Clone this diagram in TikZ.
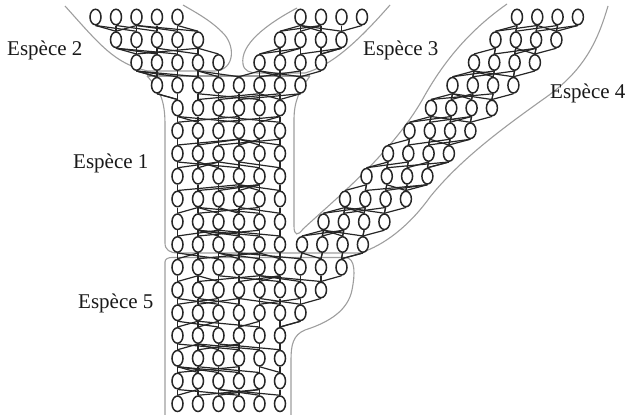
\documentclass[tikz,border=0pt]{standalone}
\usepackage{fontspec}
\setmainfont{Liberation Serif}
\usetikzlibrary{shapes.geometric}
\tikzset{
  ind/.style={ellipse, draw=black!85, fill=white, line width=1.5pt, minimum width=11pt, minimum height=15.5pt, inner sep=0pt},
  lk/.style={draw=black!85, line width=1.2pt},
  bd/.style={draw=black!38, line width=1.1pt},
  lab/.style={font=\fontsize{21}{24}\selectfont, text=black!90, inner sep=0pt, anchor=base west}
}
\newcommand\mrow[3]{%
  \foreach \k in {#2,...,#3}{%
    \node[ind] (n-#1-\k) at ({95.5+20.5*\k},{17+22.75*#1}) {};
  }}
\newcommand\drow[1]{%
  \pgfmathtruncatemacro\kA{20-#1}%
  \pgfmathtruncatemacro\kB{23-#1}%
  \foreach \k in {\kA,...,\kB}{%
    \node[ind] (n-#1-\k) at ({302+21.5*(10-#1)+20.3*(\k-20+#1)},{17+22.75*#1}) {};
  }}
\newcommand\lnks[5]{%
  \pgfmathtruncatemacro\pRw{#1-1}%
  \foreach \k in {#2,...,#3}{%
    \pgfmathtruncatemacro\pA{max(#4,min(#5,\k))}%
    \pgfmathrandominteger{\dD}{1}{3}%
    \pgfmathrandominteger{\sG}{0}{1}%
    \pgfmathtruncatemacro\pB{\k+(2*\sG-1)*\dD}%
    \ifnum\pB<#4\relax\pgfmathtruncatemacro\pB{\k+\dD}\fi
    \ifnum\pB>#5\relax\pgfmathtruncatemacro\pB{\k-\dD}\fi
    \pgfmathtruncatemacro\pB{max(#4,min(#5,\pB))}%
    \draw[lk] (n-#1-\k.north) -- (n-\pRw-\pA.south);
    \ifnum\pB=\pA\relax\else\draw[lk] (n-#1-\k.north) -- (n-\pRw-\pB.south);\fi
  }%
  \foreach \p in {#4,...,#5}{%
    \pgfmathtruncatemacro\cK{max(#2,min(#3,\p))}%
    \draw[lk] (n-#1-\cK.north) -- (n-\pRw-\p.south);
  }}
\begin{document}
\begin{tikzpicture}[x=1pt,y=-1pt]
\useasboundingbox (0,0) rectangle (630,415);
\pgfmathsetseed{11}
% outlines
\draw[bd] (65,6) .. controls (100,45) and (115,64) .. (148,71) -- (215,71)
  .. controls (235,70) and (236,45) .. (222,32) .. controls (210,20) and (195,12) .. (183,5);
\draw[bd] (297,8) .. controls (265,25) and (240,45) .. (243,64) .. controls (244,71) and (250,73) .. (258,73)
  -- (305,73) .. controls (330,66) and (355,45) .. (390,5);
\draw[bd] (147,76) -- (310,76);
\draw[bd] (147,76) .. controls (160,90) and (165,100) .. (165,125) -- (165,243)
  .. controls (165,250) and (170,253) .. (178,253) -- (360,253)
  .. controls (385,245) and (410,225) .. (430,197) .. controls (460,160) and (500,130) .. (545,98)
  .. controls (585,70) and (598,40) .. (608,6);
\draw[bd] (310,76) .. controls (300,90) and (294,100) .. (294,120) -- (294,226)
  .. controls (294,236) and (298,236) .. (303,229)
  .. controls (340,195) and (395,150) .. (425,95) .. controls (445,60) and (470,30) .. (507,4);
\draw[bd] (165,415) -- (165,262) .. controls (165,259) and (168,257.5) .. (172,257.5) -- (345,257.5)
  .. controls (356,257.5) and (355,275) .. (352,290) .. controls (348,310) and (330,322) .. (305,330)
  .. controls (293,335) and (291,345) .. (291,360) -- (291,415);
% individuals
\mrow{0}{0}{4} \mrow{0}{10}{13} \drow{0}
\mrow{1}{1}{5} \mrow{1}{9}{12} \drow{1}
\mrow{2}{2}{6} \mrow{2}{8}{11} \drow{2}
\mrow{3}{3}{10} \drow{3}
\mrow{4}{4}{9} \drow{4}
\mrow{5}{4}{9} \drow{5}
\mrow{6}{4}{9} \drow{6}
\mrow{7}{4}{9} \drow{7}
\mrow{8}{4}{9} \drow{8}
\mrow{9}{4}{9} \drow{9}
\mrow{10}{4}{9} \drow{10}
\mrow{11}{4}{12}
\mrow{12}{4}{11}
\mrow{13}{4}{10}
\mrow{14}{4}{9}
\mrow{15}{4}{9}
\mrow{16}{4}{9}
\mrow{17}{4}{9}
% links
\lnks{1}{1}{5}{0}{4} \lnks{1}{9}{12}{10}{13} \lnks{1}{19}{22}{20}{23}
\lnks{2}{2}{6}{1}{5} \lnks{2}{8}{11}{9}{12} \lnks{2}{18}{21}{19}{22}
\lnks{3}{3}{6}{2}{6} \lnks{3}{7}{10}{8}{11} \lnks{3}{17}{20}{18}{21}
\draw[lk] (n-3-7.north) -- (n-2-5.south);
\lnks{4}{4}{9}{3}{10} \lnks{4}{16}{19}{17}{20}
\lnks{5}{4}{9}{4}{9} \lnks{5}{15}{18}{16}{19}
\lnks{6}{4}{9}{4}{9} \lnks{6}{14}{17}{15}{18}
\lnks{7}{4}{9}{4}{9} \lnks{7}{13}{16}{14}{17}
\lnks{8}{4}{9}{4}{9} \lnks{8}{12}{15}{13}{16}
\lnks{9}{4}{9}{4}{9} \lnks{9}{11}{14}{12}{15}
\lnks{10}{4}{9}{4}{9} \lnks{10}{10}{13}{11}{14}
\lnks{11}{4}{12}{4}{13}
\lnks{12}{4}{11}{4}{12}
\lnks{13}{4}{10}{4}{11}
\lnks{14}{4}{9}{4}{10}
\lnks{15}{4}{9}{4}{9}
\lnks{16}{4}{9}{4}{9}
\lnks{17}{4}{9}{4}{9}
% labels
\node[lab] (l2) at (7,55) {Espèce 2};
\node[lab] (l3) at (363,55) {Espèce 3};
\node[lab] (l4) at (550,98) {Espèce 4};
\node[lab] (l1) at (73,168) {Espèce 1};
\node[lab] (l5) at (78,308) {Espèce 5};
\end{tikzpicture}
\end{document}
